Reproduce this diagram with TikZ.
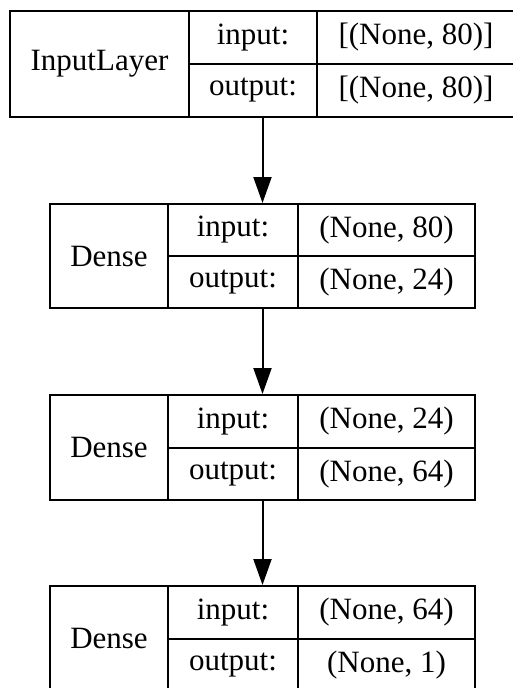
\documentclass[tikz,border=0pt]{standalone}
\usepackage{fontspec}
\setmainfont{Liberation Serif}
\usetikzlibrary{arrows.meta}
\tikzset{
  cell/.style={draw, line width=2pt, inner sep=0pt, anchor=north west},
  outline/.style={line width=2pt, inner sep=0pt, anchor=north west},
  arr/.style={-{Triangle[length=26pt,width=18pt]}, line width=2pt},
}
\begin{document}
\begin{tikzpicture}[x=1pt,y=-1pt,font=\fontsize{31}{36}\selectfont]
			\useasboundingbox (0,0) rectangle (512,688);
			% input layer
			\node[outline, minimum width=505pt, minimum height=106pt] (inputlayer) at (9,10) {};
			\node[cell, minimum width=179pt, minimum height=106pt] (inname) at (9,10) {InputLayer};
			\node[cell, minimum width=128pt, minimum height=53pt] (inin) at (188,10) {input:};
			\node[cell, minimum width=128pt, minimum height=53pt] (inout) at (188,63) {output:};
			\node[cell, minimum width=198pt, minimum height=53pt] (invin) at (316,10) {[(None, 80)]};
			\node[cell, minimum width=198pt, minimum height=53pt] (invout) at (316,63) {[(None, 80)]};
			% dense 1
			\node[outline, minimum width=425pt, minimum height=104pt] (dense1) at (49,203) {};
			\node[cell, minimum width=118pt, minimum height=104pt] (dname1) at (49,203) {Dense};
			\node[cell, minimum width=130pt, minimum height=52pt] (din1) at (167,203) {input:};
			\node[cell, minimum width=130pt, minimum height=52pt] (dout1) at (167,255) {output:};
			\node[cell, minimum width=177pt, minimum height=52pt] (dvin1) at (297,203) {(None, 80)};
			\node[cell, minimum width=177pt, minimum height=52pt] (dvout1) at (297,255) {(None, 24)};
			% dense 2
			\node[outline, minimum width=425pt, minimum height=105pt] (dense2) at (49,394) {};
			\node[cell, minimum width=118pt, minimum height=105pt] (dname2) at (49,394) {Dense};
			\node[cell, minimum width=130pt, minimum height=52.5pt] (din2) at (167,394) {input:};
			\node[cell, minimum width=130pt, minimum height=52.5pt] (dout2) at (167,446.5) {output:};
			\node[cell, minimum width=177pt, minimum height=52.5pt] (dvin2) at (297,394) {(None, 24)};
			\node[cell, minimum width=177pt, minimum height=52.5pt] (dvout2) at (297,446.5) {(None, 64)};
			% dense 3
			\node[outline, minimum width=425pt, minimum height=105pt] (dense3) at (49,585) {};
			\node[cell, minimum width=118pt, minimum height=105pt] (dname3) at (49,585) {Dense};
			\node[cell, minimum width=130pt, minimum height=52.5pt] (din3) at (167,585) {input:};
			\node[cell, minimum width=130pt, minimum height=52.5pt] (dout3) at (167,637.5) {output:};
			\node[cell, minimum width=177pt, minimum height=52.5pt] (dvin3) at (297,585) {(None, 64)};
			\node[cell, minimum width=177pt, minimum height=52.5pt] (dvout3) at (297,637.5) {(None, 1)};
			% connectors
			\draw[arr] (inputlayer.south) -- (dense1.north);
			\draw[arr] (dense1.south) -- (dense2.north);
			\draw[arr] (dense2.south) -- (dense3.north);
		\end{tikzpicture}
\end{document}
